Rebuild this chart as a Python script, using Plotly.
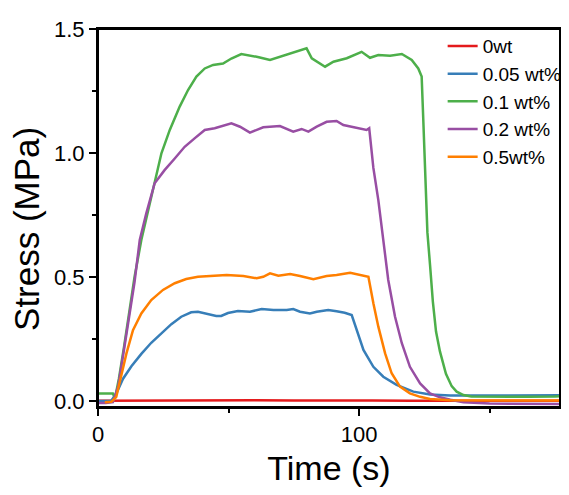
import plotly.graph_objects as go

# ---------------- data ----------------
names = ["0wt", "0.05 wt%", "0.1 wt%", "0.2 wt%", "0.5wt%"]
colors = ["#E41A1C", "#377EB8", "#4DAF4A", "#984EA3", "#FF7F00"]

t_0wt = [0, 15, 30, 45, 60, 75, 90, 105, 120, 135, 150, 165, 180]
s_0wt = [0.001, 0.002, 0.003, 0.002, 0.003, 0.002, 0.003, 0.002, 0.001, 0.001, 0.001, 0.001, 0.001]

t_005 = [0, 5, 7, 9.6, 12.8, 16.6, 20.4, 24.3, 28.1, 31.9, 35.7, 38.3, 42.1, 45.3, 47.2,
         49.8, 53.6, 58.2, 62.7, 67.2, 72.3, 74.8, 77.4, 81.2, 83.8, 88.2, 91.4, 94.5,
         97.2, 99.1, 101.7, 105.5, 109.3, 114.4, 120.8, 127.2, 134.9, 150, 165, 180]
s_005 = [0.0, 0.0, 0.03, 0.09, 0.14, 0.19, 0.235, 0.275, 0.31, 0.34, 0.358, 0.36, 0.351,
         0.343, 0.343, 0.355, 0.363, 0.36, 0.371, 0.367, 0.367, 0.371, 0.36, 0.353, 0.36,
         0.367, 0.362, 0.356, 0.347, 0.29, 0.206, 0.138, 0.098, 0.065, 0.038, 0.026, 0.022,
         0.022, 0.023, 0.024]

t_01 = [0, 3, 5.7, 6.5, 8, 10, 12, 14, 16.6, 20.4, 24.3, 27.5, 31.3, 34.5, 37.7, 40.9,
        44.1, 47.9, 51.1, 54.9, 57.5, 60.8, 65.9, 69.7, 74.8, 79.9, 81.9, 84.4, 87.0,
        90.2, 95.3, 101.0, 104.2, 107.4, 111.9, 116.4, 120.2, 122.7, 124.0, 124.6, 125.3,
        126.2, 127.2, 128.3, 129.5, 131.0, 133.3, 135.5, 137.4, 140, 143, 150, 165, 175, 180]
s_01 = [0.03, 0.031, 0.03, 0.01, 0.09, 0.22, 0.36, 0.50, 0.649, 0.824, 0.999, 1.093, 1.187,
        1.254, 1.308, 1.341, 1.355, 1.361, 1.381, 1.399, 1.395, 1.388, 1.375, 1.388, 1.406,
        1.422, 1.382, 1.366, 1.348, 1.368, 1.382, 1.408, 1.384, 1.395, 1.392, 1.399, 1.375,
        1.341, 1.308, 1.14, 0.90, 0.68, 0.55, 0.40, 0.28, 0.20, 0.11, 0.06, 0.038, 0.024,
        0.018, 0.017, 0.017, 0.018, 0.022]

t_02 = [0, 3, 5.7, 7.7, 10, 12, 14, 16.0, 18.5, 21.7, 25.5, 29.4, 33.2, 37.0, 40.9, 44.7,
        48.5, 51.1, 54.4, 58.2, 63.3, 69.7, 74.8, 78.0, 80.6, 83.8, 87.6, 91.4, 94.0, 99.1,
        102.9, 103.9, 105.5, 107.4, 109.3, 111.2, 113.8, 116.4, 119.5, 123.4, 127.2, 131.0,
        135, 140, 150, 165, 180]
s_02 = [-0.008, -0.008, -0.004, 0.058, 0.21, 0.34, 0.48, 0.649, 0.757, 0.878, 0.931, 0.978,
        1.025, 1.059, 1.093, 1.100, 1.113, 1.120, 1.106, 1.082, 1.104, 1.109, 1.086, 1.097,
        1.086, 1.106, 1.126, 1.129, 1.113, 1.100, 1.093, 1.100, 0.94, 0.810, 0.636, 0.488,
        0.340, 0.233, 0.138, 0.071, 0.031, 0.015, 0.005, -0.005, -0.01, -0.012, -0.012]

t_05 = [2.6, 5.1, 7.0, 8.9, 10.9, 13.4, 16.6, 20.4, 24.9, 29.4, 33.8, 38.3, 42.9, 49.3,
        55.7, 60.8, 63.3, 65.9, 69.1, 73.6, 77.4, 82.5, 87.6, 91.4, 96.6, 100.4, 103.6,
        105.5, 107.4, 110.0, 112.5, 115.7, 119.5, 123.4, 127.2, 135, 150, 165, 180]
s_05 = [-0.005, -0.003, 0.017, 0.098, 0.192, 0.286, 0.353, 0.407, 0.448, 0.475, 0.492,
        0.501, 0.504, 0.508, 0.504, 0.495, 0.501, 0.515, 0.505, 0.512, 0.504, 0.491, 0.504,
        0.508, 0.517, 0.508, 0.501, 0.394, 0.30, 0.192, 0.112, 0.058, 0.031, 0.017, 0.008,
        0.003, 0.002, 0.002, 0.002]

series_t = [t_0wt, t_005, t_01, t_02, t_05]
series_s = [s_0wt, s_005, s_01, s_02, s_05]

x_range = [0, 177]
y_range = [-0.024, 1.5]

FONT = "Arial, 'Liberation Sans', sans-serif"

fig = go.Figure()
for name, col, tx, sy in zip(names, colors, series_t, series_s):
    fig.add_trace(go.Scatter(x=tx, y=sy, mode="lines", name=name,
                             line=dict(color=col, width=2.5)))

common = dict(showgrid=False, zeroline=False, linecolor="black", linewidth=2,
              tickcolor="black", tickwidth=2, automargin=False, showline=True, mirror=True)

# the page body has an 8px margin; keep the figure inside the window (no scrollbars)
fig.update_layout(
    width=553, height=479,
    margin=dict(l=90, r=1, t=21, b=80, autoexpand=False),
    paper_bgcolor="white", plot_bgcolor="white",
    font=dict(family=FONT, color="black"),
    showlegend=True,
    legend=dict(x=0.746, y=1.005, xanchor="left", yanchor="top",
                bgcolor="rgba(0,0,0,0)", font=dict(size=19, family=FONT),
                tracegroupgap=0),
    xaxis=dict(range=x_range, tick0=0, dtick=100, ticks="outside", ticklen=7,
               minor=dict(dtick=50, ticks="outside", ticklen=4, tickwidth=2, tickcolor="black"),
               tickfont=dict(size=22), title=dict(text="Time (s)", font=dict(size=34), standoff=10),
               **common),
    yaxis=dict(range=y_range, tick0=0, dtick=0.5, tickformat=".1f", ticks="outside", ticklen=7,
               minor=dict(dtick=0.25, ticks="outside", ticklen=4, tickwidth=2, tickcolor="black"),
               tickfont=dict(size=22),
               **common),
    shapes=[dict(type="rect", xref="paper", yref="paper", x0=0, y0=0, x1=1, y1=1,
                 line=dict(color="black", width=2), fillcolor="rgba(0,0,0,0)", layer="above")],
    annotations=[dict(text="Stress (MPa)", textangle=-90, xref="paper", yref="paper",
                      x=0, y=0.471, xanchor="center", yanchor="middle", xshift=-71,
                      showarrow=False, font=dict(size=35, family=FONT))],
)

fig.write_html("out.html")
